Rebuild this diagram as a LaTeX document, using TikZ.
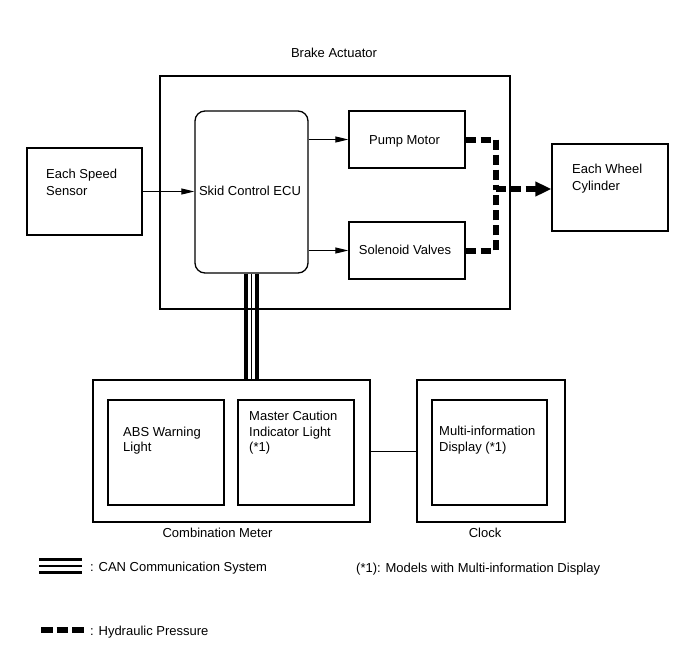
\documentclass[tikz,border=0pt]{standalone}
\usepackage{fontspec}
\setmainfont{Liberation Sans}
\usetikzlibrary{arrows.meta}
\begin{document}
\begin{tikzpicture}[x=1pt,y=-1pt,
  box/.style={draw,line width=1.3pt,rectangle,inner sep=0pt,minimum width=#1},
  txt/.style={inner sep=0pt,font=\fontsize{13}{15.4}\selectfont,align=left},
  txtw/.style={inner sep=0pt,font=\fontsize{13}{16.7}\selectfont,align=left},
  sig/.style={line width=1pt,-{Triangle[length=13pt,width=6pt]}},
  hyd/.style={line width=6pt,dash pattern=on 10pt off 5pt},
  canthick/.style={line width=4pt},
  canthin/.style={line width=1.3pt}
]
\useasboundingbox[fill=white] (0,0) rectangle (690,659);

% boxes
\node[box=350pt,minimum height=233pt] (act) at (335,192.5) {};
\node[box=113pt,minimum height=162pt,rounded corners=10pt] (ecu) at (251.5,192) {};
\node[box=116pt,minimum height=57pt] (pump) at (407,139.5) {};
\node[box=116pt,minimum height=57pt] (sol) at (407,250.5) {};
\node[box=115pt,minimum height=87pt] (speed) at (84.5,191.5) {};
\node[box=116pt,minimum height=87pt] (wheel) at (610,187.5) {};
\node[box=277pt,minimum height=142pt] (cm) at (231.5,451) {};
\node[box=116pt,minimum height=105pt] (abs) at (166,452.5) {};
\node[box=116pt,minimum height=105pt] (mci) at (296,452.5) {};
\node[box=148pt,minimum height=142pt] (clock) at (491,451) {};
\node[box=115pt,minimum height=105pt] (mid) at (489.5,452.5) {};

% texts
\node[txt,anchor=base] (acttxt) at (334,57.9) {Brake Actuator};
\node[txt,anchor=base] (ecutxt) at (250,195.6) {Skid Control ECU};
\node[txt,anchor=base] (pumptxt) at (404.5,144) {Pump Motor};
\node[txt,anchor=base] (soltxt) at (405,254.6) {Solenoid Valves};
\node[txtw,anchor=base west] (speedtxt) at (46,195.3) {Each Speed\\Sensor};
\node[txtw,anchor=base west] (wheeltxt) at (572,190.3) {Each Wheel\\Cylinder};
\node[txt,anchor=base west] (abstxt) at (123,451.7) {ABS Warning\\Light};
\node[txt,anchor=base west] (mcitxt) at (249,451.4) {Master Caution\\Indicator Light\\(*1)};
\node[txt,anchor=base west] (midtxt) at (439,451.0) {Multi-information\\Display (*1)};
\node[txt,anchor=base] (cmtxt) at (217.5,537.6) {Combination Meter};
\node[txt,anchor=base] (clocktxt) at (485,537.6) {Clock};

% signal arrows
\draw[sig] (speed.east) -- (speed.east -| ecu.west);
\draw[sig] (ecu.east |- pump.west) -- (pump.west);
\draw[sig] (ecu.east |- sol.west) -- (sol.west);

% hydraulic
\coordinate (jn) at (495.5,189);
\draw[hyd] (pump.east) -| (jn);
\draw[hyd] (sol.east) -| (jn);
\draw[hyd,-{Triangle[length=16pt,width=14pt]}] (jn) -- (jn -| wheel.west);

% CAN
\draw[canthick] ([xshift=-5.5pt]ecu.south) -- ([xshift=-5.5pt]ecu.south |- cm.north);
\draw[canthin] (ecu.south) -- (ecu.south |- cm.north);
\draw[canthick] ([xshift=5.5pt]ecu.south) -- ([xshift=5.5pt]ecu.south |- cm.north);

% meter - clock
\draw[line width=1pt] (cm.east) -- (clock.west);

% legend
\draw[line width=3pt] (39,559) -- (82,559);
\draw[line width=1.2pt] (39,566) -- (82,566);
\draw[line width=3.3pt] (39,572.3) -- (82,572.3);
\node[txt,anchor=base west] (cantxt) at (90,571.9) {: CAN Communication System};
\draw[line width=6pt,dash pattern=on 11.5pt off 4pt] (41,630) -- (84,630);
\node[txt,anchor=base west] (hydtxt) at (90,635.3) {: Hydraulic Pressure};
\node[txt,anchor=base west] (notetxt) at (356,572.6) {(*1): Models with Multi-information Display};
\end{tikzpicture}
\end{document}
